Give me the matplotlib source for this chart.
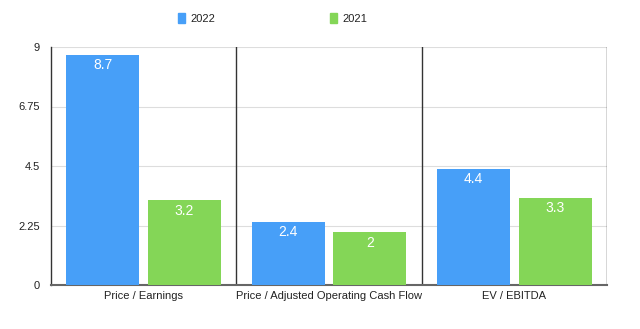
import matplotlib
matplotlib.use("Agg")
import matplotlib.pyplot as plt
from matplotlib.patches import Rectangle

plt.rcParams['font.family'] = ['Liberation Sans', 'DejaVu Sans']

categories = ["Price / Earnings", "Price / Adjusted Operating Cash Flow", "EV / EBITDA"]
series_names = ["2022", "2021"]
values_2022 = [8.7, 2.4, 4.4]
values_2021 = [3.2, 2.0, 3.3]
labels_2022 = ["8.7", "2.4", "4.4"]
labels_2021 = ["3.2", "2", "3.3"]
yticks = [0, 2.25, 4.5, 6.75, 9]
ytick_labels = ["0", "2.25", "4.5", "6.75", "9"]

blue = "#479ff8"
green = "#84d657"

fig = plt.figure(figsize=(6.4, 3.29), dpi=100)
ax = fig.add_axes([51/640, 1-285/329, (607-51)/640, (285-47)/329])

x = list(range(len(categories)))
w = 0.395
off = 0.22
b1 = ax.bar([i - off for i in x], values_2022, width=w, color=blue, zorder=3)
b2 = ax.bar([i + off for i in x], values_2021, width=w, color=green, zorder=3)

for bars, labs in ((b1, labels_2022), (b2, labels_2021)):
    for rect, lab in zip(bars, labs):
        ax.annotate(lab, (rect.get_x() + rect.get_width()/2, rect.get_height()),
                    xytext=(0, -7.5), textcoords="offset points",
                    ha="center", va="center", color="white", fontsize=10, zorder=4)

ax.set_xlim(-0.5, 2.5)
ax.set_ylim(0, 9)
ax.set_yticks(yticks)
ax.set_yticklabels(ytick_labels, fontsize=8, color="#222222")
ax.set_xticks(x)
ax.set_xticklabels(categories, fontsize=8, color="#222222")
ax.tick_params(axis="both", length=0, pad=4)
ax.tick_params(axis="y", pad=8)
ax.grid(axis="y", color="#dddddd", linewidth=0.8, zorder=0)

for s in ("top", "right"):
    ax.spines[s].set_visible(False)
ax.spines["left"].set_color("#333333")
ax.spines["left"].set_linewidth(1.0)
ax.spines["bottom"].set_color("#666666")
ax.spines["bottom"].set_linewidth(1.5)

for xv in (0.5, 1.5, 2.5):
    ax.axvline(xv, color="#333333", linewidth=1.0, zorder=2)

# legend
for (xp, name, col) in ((178, series_names[0], blue), (330, series_names[1], green)):
    fig.patches.append(Rectangle((xp/640, 1-23/329), 7/640, 10/329, transform=fig.transFigure,
                                 color=col, figure=fig))
    fig.text((xp+12)/640, 1-18.5/329, name, fontsize=8, va="center", ha="left", color="#222222")

fig.savefig("out.png", dpi=100)
